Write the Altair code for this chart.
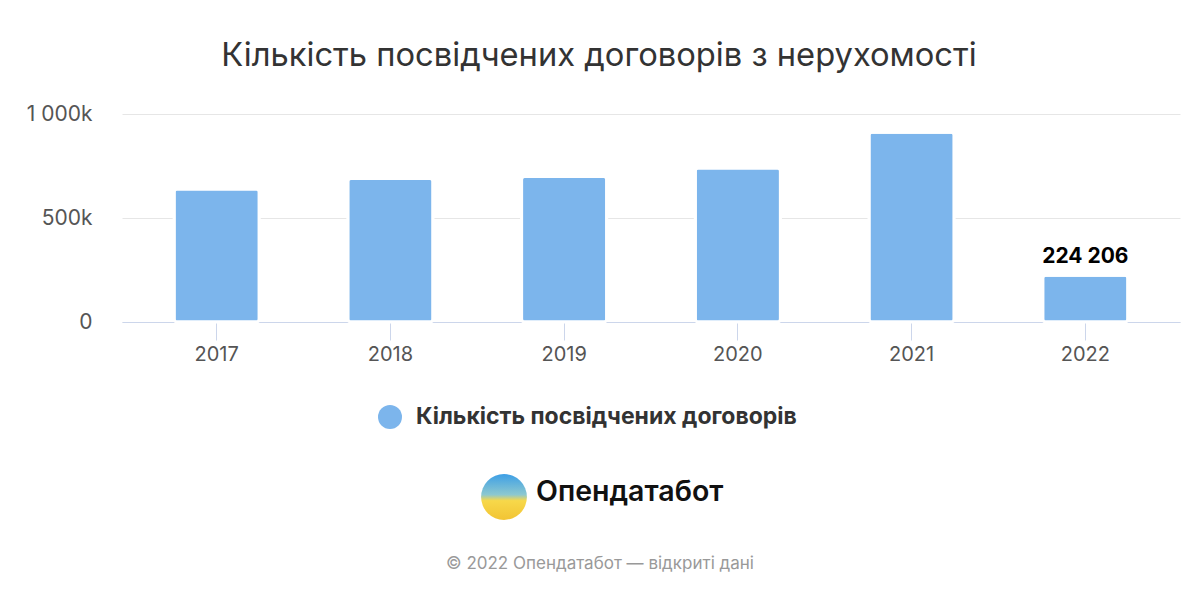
import altair as alt
import pandas as pd

years = ["2017", "2018", "2019", "2020", "2021", "2022"]
values = [640000, 690000, 700000, 740000, 912000, 224206]
series_name = "Кількість посвідчених договорів"
title_text = "Кількість посвідчених договорів з нерухомості"
logo_text = "Опендатабот"
footer_text = "© 2022 Опендатабот — відкриті дані"
label_year = "2022"
label_text = "224 206"

df = pd.DataFrame({"year": years, "value": values, "series": [series_name] * len(years)})
df_label = pd.DataFrame({"year": [label_year], "value": [values[years.index(label_year)]], "t": [label_text]})

FONT = "Inter"
W, H = 1058, 208
PL, PT = 114, 106

x = alt.X("year:N", title=None,
          scale=alt.Scale(paddingInner=0.51, paddingOuter=0.3),
          axis=alt.Axis(labelAngle=0, domainColor="#ccd6eb", tickColor="#ccd6eb", tickSize=18,
                        labelFontSize=20, labelColor="#555555", labelFont=FONT, labelPadding=4,
                        grid=False))
y = alt.Y("value:Q", title=None,
          scale=alt.Scale(domain=[0, 1000000], nice=False),
          axis=alt.Axis(values=[0, 500000, 1000000], domain=False, ticks=False,
                        gridColor="#e6e6e6", gridWidth=1, labelFontSize=21, labelColor="#555555",
                        labelFont=FONT, labelPadding=30,
                        labelExpr="datum.value === 0 ? '0' : replace(format(datum.value/1000, ','), ',', ' ') + 'k'"))

bars = alt.Chart(df).mark_bar(cornerRadius=3, stroke="white", strokeWidth=3).encode(
    x=x, y=y,
    color=alt.Color("series:N", title=None,
                    scale=alt.Scale(domain=[series_name], range=["#7cb5ec"]),
                    legend=alt.Legend(orient="none", legendX=256, legendY=291, symbolType="circle",
                                      symbolSize=576, symbolStrokeWidth=0, labelFontSize=23,
                                      labelFontWeight="bold", labelColor="#333333", labelFont=FONT,
                                      labelOffset=14, labelLimit=0, padding=0)),
)

value_label = alt.Chart(df_label).mark_text(fontSize=21, fontWeight="bold", font=FONT, color="#000000",
                                             baseline="alphabetic", dy=-12).encode(
    x=alt.X("year:N"), y=alt.Y("value:Q"), text="t:N")

def txt(t, xx, yy, **kw):
    return alt.Chart(pd.DataFrame({"t": [t]})).mark_text(**kw).encode(
        x=alt.value(xx), y=alt.value(yy), text="t:N")

title = txt(title_text, 599 - 122, 56 - 114, fontSize=32.7, font=FONT, color="#333333",
            align="center", baseline="middle")
footer = txt(footer_text, 600 - 122, 564 - 114, fontSize=17, font=FONT, color="#999999",
             align="center", baseline="middle")
logo_word = txt(logo_text, 536 - 122, 492 - 114, fontSize=28.5, font=FONT, fontWeight=600,
                color="#111111", align="left", baseline="middle")
logo_circle = alt.Chart(pd.DataFrame({"t": [logo_text]})).mark_point(
    shape="circle", filled=True, size=2100, opacity=1,
    color=alt.Gradient(gradient="linear", x1=0, y1=0, x2=0, y2=1,
                       stops=[alt.GradientStop(color="#3d9fe6", offset=0),
                              alt.GradientStop(color="#8cc8d0", offset=0.45),
                              alt.GradientStop(color="#f7d84a", offset=0.58),
                              alt.GradientStop(color="#f2c434", offset=1)])
).encode(x=alt.value(504 - 122), y=alt.value(497 - 114))

chart = alt.layer(bars, value_label, title, footer, logo_circle, logo_word).properties(
    width=W, height=H,
    background="white",
    autosize=alt.AutoSizeParams(type="none"),
    padding={"left": PL, "top": PT, "right": 1184 - PL - W, "bottom": 592 - PT - H},
).configure_view(stroke=None)

chart.save("out.html", embed_options={"renderer": "svg", "actions": False})
